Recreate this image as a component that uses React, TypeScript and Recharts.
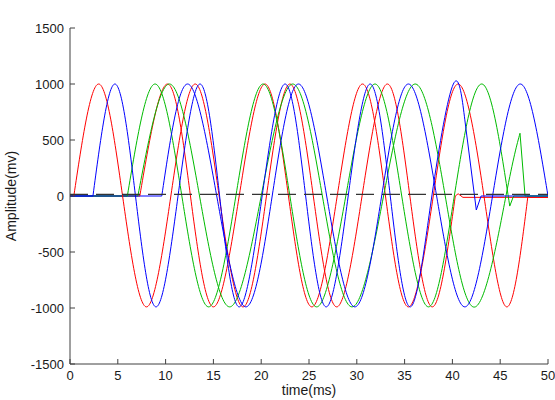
import React from 'react';
import { LineChart, Line, XAxis, YAxis, ReferenceLine } from 'recharts';

// ---------- axis ticks ----------
const xTicks = [0, 5, 10, 15, 20, 25, 30, 35, 40, 45, 50];
const yTicks = [-1500, -1000, -500, 0, 500, 1000, 1500];

// ---------- dashed reference level ----------
const thresholdLevel = 15;

// ---------- red 1 (time ms / amplitude mv) ----------
const red1WaveT = [0.4, 3.0, 5.5, 8.0, 10.55, 13.1, 15.6, 18.1, 20.55, 23.0, 25.45, 27.9, 30.55, 33.2, 35.55, 37.9, 40.3];
const red1WaveV = [0, 1000, 0, -990, 0, 1000, 0, -990, 0, 1000, 0, -990, 0, 1000, 0, -990, 0];
const red1TailT = [40.3, 40.6, 41.1, 50];
const red1TailV = [0, 20, -12, -12];

// ---------- red 2 ----------
const red2WaveT = [7.3, 10.2, 12.6, 15.0, 17.7, 20.4, 22.85, 25.3, 27.95, 30.6, 33.0, 35.4, 38.0, 40.6, 43.3, 45.7, 47.9];
const red2WaveV = [0, 1000, 0, -990, 0, 1000, 0, -990, 0, 1000, 0, -990, 0, 1000, 0, -990, 0];
const red2TailT = [47.9, 48.1, 50];
const red2TailV = [0, -12, -12];

// ---------- blue 1 ----------
const blue1WaveT = [2.4, 4.7, 6.85, 9.0, 11.3, 13.6, 15.65, 17.7, 20.1, 22.5, 24.65, 26.8, 29.1, 31.4, 33.5, 35.6, 37.85, 40.1, 41.3];
const blue1WaveV = [0, 1000, 0, -990, 0, 1000, 0, -990, 0, 1000, 0, -990, 0, 1000, 0, -990, 0, 1000, 680];
const blue1TailT = [41.3, 42.5, 43.0, 50];
const blue1TailV = [680, -125, 0, 0];

// ---------- blue 2 ----------
const blue2WaveT = [9.6, 12.3, 15.35, 18.4, 21.15, 23.9, 26.85, 29.8, 32.6, 35.4, 38.35, 41.3, 44.2, 47.1, 50];
const blue2WaveV = [0, 1000, 0, -990, 0, 1000, 0, -990, 0, 1000, 0, -990, 0, 1000, 0];

// ---------- green 1 ----------
const green1WaveT = [6.0, 8.9, 11.7, 14.5, 17.35, 20.2, 23.0, 25.8, 28.85, 31.9, 34.7, 37.5, 40.2, 43.1, 46.0];
const green1WaveV = [0, 1000, 0, -990, 0, 1000, 0, -990, 0, 1000, 0, -990, 0, 1000, -90];
const green1TailT = [46.0, 46.4, 50];
const green1TailV = [-90, 0, 0];

// ---------- green 2 ----------
const green2WaveT = [7.1, 10.4, 13.55, 16.7, 20.0, 23.3, 26.4, 29.5, 32.8, 36.1, 39.25, 42.4, 45.6, 47.07];
const green2WaveV = [0, 1000, 0, -990, 0, 1000, 0, -990, 0, 1000, 0, -990, 0, 560];
const green2TailT = [47.07, 47.6, 50];
const green2TailV = [560, 0, 0];

const RED = '#ff0000';
const BLUE = '#0000ff';
const GREEN = '#00bb00';
const AXIS = '#404040';
const FONT = '"Liberation Sans", Arial, Helvetica, sans-serif';

const toPts = (ts: number[], vs: number[]) => ts.map((t, i) => ({ t, v: vs[i] }));
const lead = (ts: number[]) => [{ t: 0, v: 0 }, { t: ts[0], v: 0 }];

type Curve = { key: string; color: string; waveT: number[]; waveV: number[]; tailT?: number[]; tailV?: number[] };

const curves: Curve[] = [
  { key: 'r1', color: RED, waveT: red1WaveT, waveV: red1WaveV, tailT: red1TailT, tailV: red1TailV },
  { key: 'r2', color: RED, waveT: red2WaveT, waveV: red2WaveV, tailT: red2TailT, tailV: red2TailV },
  { key: 'g1', color: GREEN, waveT: green1WaveT, waveV: green1WaveV, tailT: green1TailT, tailV: green1TailV },
  { key: 'g2', color: GREEN, waveT: green2WaveT, waveV: green2WaveV, tailT: green2TailT, tailV: green2TailV },
  { key: 'b1', color: BLUE, waveT: blue1WaveT, waveV: blue1WaveV, tailT: blue1TailT, tailV: blue1TailV },
  { key: 'b2', color: BLUE, waveT: blue2WaveT, waveV: blue2WaveV },
];

const BottomTick = (props: any) => {
  const { x, y, payload } = props;
  return (
    <g>
      <line x1={x} y1={y} x2={x} y2={y - 5} stroke={AXIS} strokeWidth={1} />
      <text x={x} y={y + 16} textAnchor="middle" fontFamily={FONT} fontSize={13} fill="#1a1a1a">
        {payload.value}
      </text>
    </g>
  );
};

const LeftTick = (props: any) => {
  const { x, y, payload } = props;
  return (
    <g>
      <line x1={x} y1={y} x2={x + 5} y2={y} stroke={AXIS} strokeWidth={1} />
      <text x={x - 6} y={y + 4.7} textAnchor="end" fontFamily={FONT} fontSize={13} fill="#1a1a1a">
        {payload.value}
      </text>
    </g>
  );
};

const TopTick = (props: any) => {
  const { x, y } = props;
  return <line x1={x} y1={y} x2={x} y2={y + 5} stroke={AXIS} strokeWidth={1} />;
};

const RightTick = (props: any) => {
  const { x, y } = props;
  return <line x1={x} y1={y} x2={x - 5} y2={y} stroke={AXIS} strokeWidth={1} />;
};

const titleLabel = () => (
  <text x={309} y={20} textAnchor="middle" fontFamily={FONT} fontSize={14} fill="#1a1a1a">
    Synchronization
  </text>
);
const xLabel = () => (
  <text x={309} y={395} textAnchor="middle" fontFamily={FONT} fontSize={14} fill="#1a1a1a">
    time(ms)
  </text>
);
const yLabel = () => (
  <text x={16} y={196} transform="rotate(-90 16 196)" textAnchor="middle" fontFamily={FONT} fontSize={14} fill="#1a1a1a">
    Amplitude(mv)
  </text>
);

export default function App() {
  const lines: React.ReactNode[] = [];
  curves.forEach((c) => {
    lines.push(
      <Line key={c.key + '-lead'} data={lead(c.waveT)} dataKey="v" type="linear" stroke={c.color} strokeWidth={1}
        dot={false} activeDot={false} isAnimationActive={false} />
    );
  });
  curves.forEach((c) => {
    lines.push(
      <Line key={c.key + '-wave'} data={toPts(c.waveT, c.waveV)} dataKey="v" type="natural" stroke={c.color} strokeWidth={1}
        dot={false} activeDot={false} isAnimationActive={false} />
    );
    if (c.tailT && c.tailV) {
      lines.push(
        <Line key={c.key + '-tail'} data={toPts(c.tailT, c.tailV)} dataKey="v" type="linear" stroke={c.color} strokeWidth={1}
          dot={false} activeDot={false} isAnimationActive={false} />
      );
    }
  });

  return (
    <div style={{ position: 'absolute', left: 0, top: 0, background: '#fff' }}>
      <LineChart width={555} height={400} margin={{ top: 28, right: 7, bottom: 0, left: 0 }}>
        <XAxis dataKey="t" type="number" domain={[0, 50]} ticks={xTicks} interval={0} allowDataOverflow
          height={36} tickSize={0} tickMargin={0} tick={<BottomTick />} tickLine={false}
          axisLine={{ stroke: AXIS, strokeWidth: 1 }} label={xLabel} />
        <XAxis xAxisId="top" orientation="top" dataKey="t" type="number" domain={[0, 50]} ticks={xTicks} interval={0}
          height={0} tickSize={0} tickMargin={0} tick={<TopTick />} tickLine={false}
          axisLine={{ stroke: AXIS, strokeWidth: 1 }} label={titleLabel} />
        <YAxis type="number" domain={[-1500, 1500]} ticks={yTicks} interval={0} allowDataOverflow
          width={70} tickSize={0} tickMargin={0} tick={<LeftTick />} tickLine={false}
          axisLine={{ stroke: AXIS, strokeWidth: 1 }} label={yLabel} />
        <YAxis yAxisId="right" orientation="right" type="number" domain={[-1500, 1500]} ticks={yTicks} interval={0}
          width={0} tickSize={0} tickMargin={0} tick={<RightTick />} tickLine={false}
          axisLine={{ stroke: AXIS, strokeWidth: 1 }} />
        {lines}
        <ReferenceLine y={thresholdLevel} stroke="#333333" strokeWidth={1.2} strokeDasharray="18 8" />
      </LineChart>
    </div>
  );
}
